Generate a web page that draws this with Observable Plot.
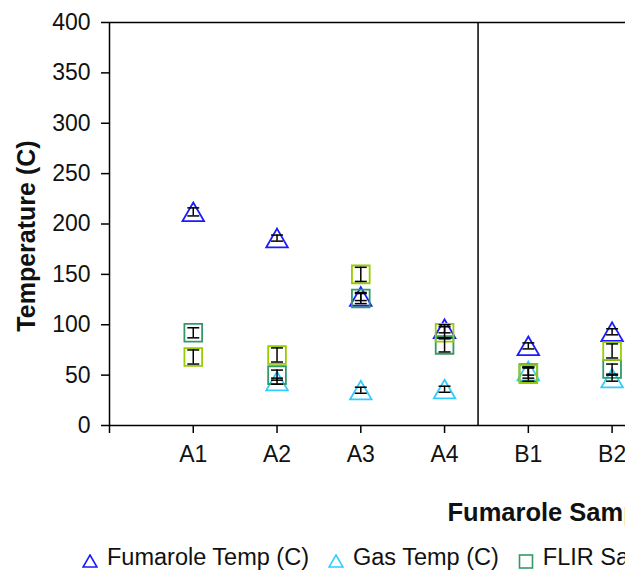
<!DOCTYPE html>
<html><head><meta charset="utf-8">
<script src="https://cdn.jsdelivr.net/npm/d3@7"></script>
<script src="https://cdn.jsdelivr.net/npm/@observablehq/plot@0.6"></script>
<style>
html,body{margin:0;padding:0;background:#fff;overflow:hidden;}
#wrap{position:relative;width:625px;height:575px;overflow:hidden;background:#fff;}
#legend{position:absolute;left:82px;top:546px;white-space:nowrap;font-family:"Liberation Sans",Arial,sans-serif;font-size:23.5px;line-height:23px;color:#111;}
#legend .item{display:inline-block;margin-right:19px;}
#legend svg{vertical-align:-4px;margin-right:9px;}
</style></head>
<body><div id="wrap"><div id="chart"></div><div id="legend"></div></div>
<script>
// ---- data ----
const samples = ["A1", "A2", "A3", "A4", "B1", "B2"];
const fumaroleTemp = [212, 186, 128, 96, 79, 93];
const fumaroleErr  = [4, 3, 4, 4, 3, 3];
const gasTemp      = [null, 44, 35, 36, 54, 47];
const gasErr       = [null, 3, 3, 3, 4, 3];
const flirTemp1    = [92, 50, 126, 80, 52, 56];
const flirErr1     = [5, 5, 5, 7, 5, 5];
const flirTemp2    = [68, 70, 150, 92, 51, 74];
const flirErr2     = [7, 7, 7, 6, 7, 7];
const seriesNames  = ["Fumarole Temp (C)", "Gas Temp (C)", "FLIR Sample Temp 1 (C)", "FLIR Sample Temp 2 (C)"];
const seriesColors = ["#1a1aff", "#33ccff", "#339966", "#99cc00"];
const seriesSymbols = ["triangle", "triangle", "square", "square"];
const yTicks = [0, 50, 100, 150, 200, 250, 300, 350, 400];
const groupDividers = [4.4];
const xMax = 6.16;
const yTitle = "Temperature (C)";
const xTitle = "Fumarole Sample";

const values = [fumaroleTemp, gasTemp, flirTemp1, flirTemp2];
const errors = [fumaroleErr, gasErr, flirErr1, flirErr2];
const series = values.map((vals, k) =>
  vals.map((v, i) => ({pos: i + 1, v, e: errors[k][i], name: seriesNames[k]})).filter(d => d.v != null));
const all = series.flat();
const xTicks = d3.range(samples.length + 1);

const capSymbol = {draw(ctx) { ctx.moveTo(-6, 0); ctx.lineTo(6, 0); }};

const marks = [
  Plot.ruleY([400], {stroke: "#000", strokeWidth: 1.5}),
  Plot.ruleX(groupDividers, {stroke: "#000", strokeWidth: 1.5}),
  Plot.axisY({ticks: yTicks, tickSize: 8, tickPadding: 11, label: null, fontSize: 23, stroke: "#000", strokeWidth: 1.5}),
  Plot.axisX({ticks: xTicks, tickFormat: i => samples[i - 1] ?? "", tickSize: 8, tickPadding: 12, label: null, fontSize: 23, stroke: "#000", strokeWidth: 1.5}),
  Plot.ruleY([0], {stroke: "#000", strokeWidth: 1.5}),
  Plot.ruleX([0], {stroke: "#000", strokeWidth: 1.5}),
];
series.forEach((data, k) => {
  const tri = seriesSymbols[k] === "triangle";
  marks.push(Plot.dot(data, {x: "pos", y: "v", symbol: seriesSymbols[k], r: tri ? 8 : 10, dy: tri ? 3 : 0,
    stroke: seriesColors[k], strokeWidth: 1.8, fill: "none"}));
});
marks.push(
  Plot.ruleX(all, {x: "pos", y1: d => d.v - d.e, y2: d => d.v + d.e, stroke: "#000", strokeWidth: 1.5}),
  Plot.dot(all, {x: "pos", y: d => d.v - d.e, symbol: capSymbol, stroke: "#000", strokeWidth: 1.5, fill: "none"}),
  Plot.dot(all, {x: "pos", y: d => d.v + d.e, symbol: capSymbol, stroke: "#000", strokeWidth: 1.5, fill: "none"}),
  Plot.text([yTitle], {frameAnchor: "left", textAnchor: "middle", lineAnchor: "middle", rotate: -90, dx: -83, dy: 12, fontWeight: "bold", fontSize: 25, fill: "#111"}),
  Plot.text([xTitle], {frameAnchor: "bottom-left", textAnchor: "start", lineAnchor: "bottom", dx: 338, dy: 95, fontWeight: "bold", fontSize: 25.5, fill: "#111"})
);

const chart = Plot.plot({
  width: 625, height: 575,
  marginLeft: 109, marginRight: 0, marginTop: 22, marginBottom: 150,
  x: {domain: [0, xMax]},
  y: {domain: [0, 400]},
  style: {fontFamily: "'Liberation Sans', Arial, sans-serif", fontSize: "23px", color: "#111", background: "#fff", overflow: "hidden"},
  marks
});
document.getElementById("chart").appendChild(chart);

// legend
const legend = document.getElementById("legend");
seriesNames.forEach((name, k) => {
  const item = document.createElement("span");
  item.className = "item";
  const shape = seriesSymbols[k] === "triangle"
    ? `<path d="M8,1 L15,13 L1,13 Z" fill="none" stroke="${seriesColors[k]}" stroke-width="1.6"/>`
    : `<rect x="1.5" y="1" width="13" height="13" fill="none" stroke="${seriesColors[k]}" stroke-width="1.6"/>`;
  item.innerHTML = `<svg width="16" height="15">${shape}</svg>${name}`;
  legend.appendChild(item);
});
</script>
</body></html>
